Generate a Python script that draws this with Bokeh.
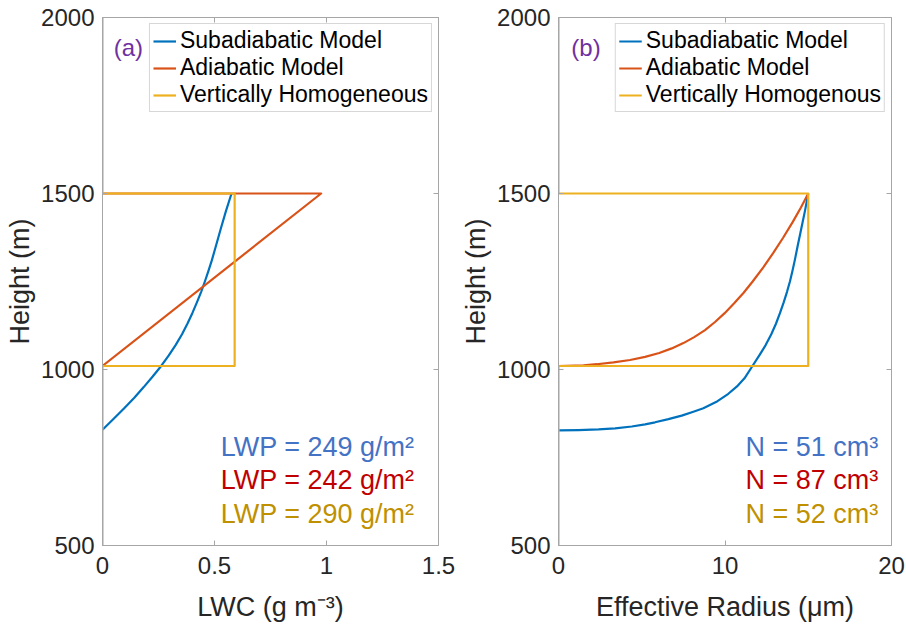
from bokeh.plotting import figure
from bokeh.layouts import row
from bokeh.models import Range1d, FixedTicker, LinearAxis, Label, Legend, LegendItem
from bokeh.embed import file_html
from bokeh.resources import INLINE

# ---------------- data ----------------
# Panel (a): LWC profiles
sub_height_a = [829, 860, 890, 920, 950, 980, 1010, 1040, 1070, 1100, 1130, 1160, 1190,
                1220, 1250, 1280, 1310, 1350, 1400, 1450, 1500]
sub_lwc = [0.0, 0.050, 0.097, 0.142, 0.184, 0.224, 0.262, 0.296, 0.327, 0.355, 0.379, 0.401,
           0.421, 0.440, 0.457, 0.473, 0.488, 0.506, 0.528, 0.551, 0.576]
adi_height_a = [1010, 1500, 1500]
adi_lwc = [0.0, 0.976, 0.0]
hom_height_a = [500, 1010, 1010, 1500, 1500, 2000]
hom_lwc = [0.0, 0.0, 0.59, 0.59, 0.0, 0.0]

# Panel (b): effective radius profiles
sub_height_b = [827, 828, 830, 833, 838, 844, 850, 859, 869, 880, 890, 910, 931, 952, 975,
                1010, 1040, 1070, 1100, 1130, 1160, 1190, 1220, 1250, 1280, 1310, 1350,
                1400, 1450, 1500]
sub_re = [0.0, 1.2, 2.4, 3.4, 4.4, 5.2, 5.8, 6.6, 7.4, 8.1, 8.7, 9.55, 10.2, 10.72, 11.17,
          11.65, 12.06, 12.45, 12.78, 13.06, 13.3, 13.52, 13.72, 13.9, 14.05, 14.19, 14.36,
          14.58, 14.80, 15.0]
adi_height_b = [1010, 1012, 1015, 1020, 1027, 1036, 1047, 1060, 1075, 1092, 1112, 1135, 1160,
                1188, 1218, 1250, 1290, 1330, 1375, 1420, 1460, 1500]
adi_re = [0.0, 1.5, 2.3, 3.3, 4.3, 5.2, 6.05, 6.8, 7.5, 8.15, 8.8, 9.4, 9.98,
          10.55, 11.12, 11.66, 12.3, 12.88, 13.5, 14.08, 14.56, 15.0]
hom_height_b = [500, 1010, 1010, 1500, 1500, 2000]
hom_re = [0.0, 0.0, 15.0, 15.0, 0.0, 0.0]

series_names_a = ["Subadiabatic Model", "Adiabatic Model", "Vertically Homogeneous"]
series_names_b = ["Subadiabatic Model", "Adiabatic Model", "Vertically Homogenous"]
lwp_values = [249, 242, 290]
n_values = [51, 87, 52]
x_ticks_a = [0, 0.5, 1, 1.5]
x_ticks_b = [0, 10, 20]
y_ticks = [500, 1000, 1500, 2000]

# ---------------- styling ----------------
LINE_COLORS = ["#0072BD", "#D95319", "#EDB120"]
TEXT_COLORS = ["#4472C4", "#C00000", "#BF9000"]
FONT = "Liberation Sans"
AX_GRAY = "#a6a6a6"
TXT = "#262626"
FRAME_W = 336


def make_panel(xr, xticks, xlabel, curves, names, panel_label, label_x,
               notes, note_x, min_left, min_right):
    p = figure(width=min_left + FRAME_W + min_right, height=626,
               x_range=Range1d(*xr), y_range=Range1d(500, 2000),
               output_backend="svg", toolbar_location=None,
               min_border_left=min_left, min_border_right=min_right,
               min_border_top=17, min_border_bottom=81)
    p.xgrid.visible = False
    p.ygrid.visible = False
    p.outline_line_color = AX_GRAY
    p.outline_line_width = 1
    p.background_fill_color = "white"
    p.border_fill_color = "white"

    p.xaxis.ticker = FixedTicker(ticks=xticks)
    p.yaxis.ticker = FixedTicker(ticks=y_ticks)
    p.xaxis.axis_label = xlabel
    p.yaxis.axis_label = "Height (m)"
    for ax in (p.xaxis[0], p.yaxis[0]):
        ax.axis_line_color = AX_GRAY
        ax.major_tick_line_color = AX_GRAY
        ax.major_tick_in = 5
        ax.major_tick_out = 0
        ax.minor_tick_line_color = None
        ax.major_label_text_font = FONT
        ax.major_label_text_font_size = "24px"
        ax.major_label_text_color = TXT
        ax.axis_label_text_font = FONT
        ax.axis_label_text_font_size = "27px"
        ax.axis_label_text_font_style = "normal"
        ax.axis_label_text_color = TXT
    p.xaxis.major_label_standoff = 11
    p.xaxis.axis_label_standoff = 15
    p.yaxis.major_label_standoff = 8
    p.yaxis.axis_label_standoff = 3
    p.yaxis.major_label_orientation = "horizontal"

    # box ticks on top and right (MATLAB style), labels not drawn
    for loc, tk in (("above", xticks), ("right", y_ticks)):
        ax = LinearAxis(ticker=FixedTicker(ticks=tk), major_label_text_font_size="2px",
                        major_label_text_color=None, major_label_standoff=0,
                        major_tick_in=5, major_tick_out=0,
                        major_tick_line_color=AX_GRAY, minor_tick_line_color=None,
                        axis_line_color=None)
        p.add_layout(ax, loc)

    renderers = []
    for (xs, ys), c in zip(curves, LINE_COLORS):
        r = p.line(xs, ys, line_color=c, line_width=2.2, line_join="round")
        renderers.append(r)

    legend = Legend(items=[LegendItem(label=n, renderers=[r]) for n, r in zip(names, renderers)],
                    location="top_right", margin=6, padding=3, spacing=0,
                    label_height=24, glyph_height=24, glyph_width=23, label_standoff=4,
                    label_text_font=FONT, label_text_font_size="23px", label_text_color="black",
                    border_line_color="#b0b0b0", border_line_width=1,
                    background_fill_color="white", background_fill_alpha=1)
    p.add_layout(legend)

    p.add_layout(Label(x=label_x, y=1916, text=panel_label, text_font=FONT,
                       text_font_size="24px", text_color="#7030A0",
                       text_baseline="middle", text_align="left"))

    note_y = [779, 685, 590]
    for t, c, y in zip(notes, TEXT_COLORS, note_y):
        p.add_layout(Label(x=note_x, y=y, text=t, text_font=FONT, text_font_size="27px",
                           text_color=c, text_align="right", text_baseline="middle"))
    return p


pa = make_panel((0, 1.5), x_ticks_a, "LWC (g m\u207b\u00b3)",
                [(sub_lwc, sub_height_a), (adi_lwc, adi_height_a), (hom_lwc, hom_height_a)],
                series_names_a, "(a)", 0.05,
                ["LWP = %d g/m\u00b2" % v for v in lwp_values], 1.393,
                min_left=102, min_right=20)
pb = make_panel((0, 20), x_ticks_b, "Effective Radius (\u03bcm)",
                [(sub_re, sub_height_b), (adi_re, adi_height_b), (hom_re, hom_height_b)],
                series_names_b, "(b)", 0.77,
                ["N = %d cm\u00b3" % v for v in n_values], 19.2,
                min_left=97, min_right=15)

layout = row(pa, pb)
open("out.html", "w").write(file_html(layout, INLINE))
